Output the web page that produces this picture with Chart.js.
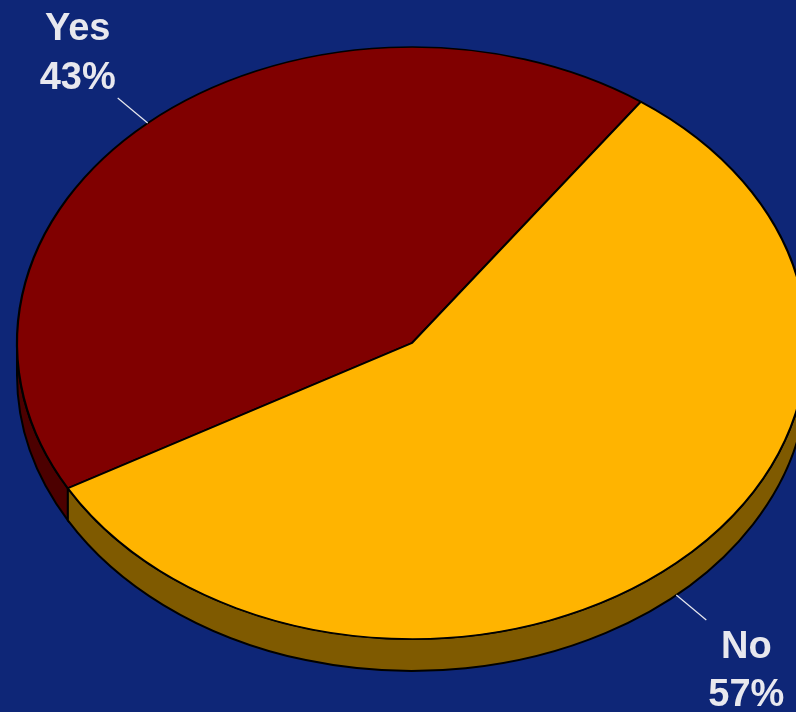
<!DOCTYPE html>
<html>
<head>
<meta charset="utf-8">
<script src="https://cdn.jsdelivr.net/npm/chart.js@4.4.0/dist/chart.umd.min.js"></script>
<style>
  html, body { margin: 0; padding: 0; background: #0e2677; overflow: hidden; }
  #wrap { position: relative; width: 796px; height: 712px; }
</style>
</head>
<body>
<div id="wrap"><canvas id="pie"></canvas></div>
<script>
const labels = ['Yes', 'No'];
const values = [43, 57];
const topColors = ['#800000', '#ffb400'];
const sideColors = ['#4c0000', '#7f5a00'];

// where the tilted pie lands on the page
const tilt = { cx: 412, cy: 343, rx: 395, ry: 296, depth: 32 };

const toPage = (ctx, arc) => {
  ctx.translate(tilt.cx, tilt.cy);
  ctx.scale(tilt.rx / arc.outerRadius, tilt.ry / arc.outerRadius);
  ctx.translate(-arc.x, -arc.y);
};

// pieces of an arc that face the viewer (lower half of the ellipse)
const frontParts = (start, end) => {
  const parts = [];
  for (let k = -2; k <= 2; k++) {
    const lo = Math.max(start, k * 2 * Math.PI);
    const hi = Math.min(end, k * 2 * Math.PI + Math.PI);
    if (hi > lo) parts.push([lo, hi]);
  }
  return parts;
};

const tiltPlugin = {
  id: 'tilt',
  beforeDatasetsDraw(chart) {
    const ctx = chart.ctx;
    const arcs = chart.getDatasetMeta(0).data;
    arcs.forEach((arc, i) => {
      frontParts(arc.startAngle, arc.endAngle).forEach(([a, b]) => {
        const dy = tilt.depth * arc.outerRadius / tilt.ry;
        ctx.save();
        toPage(ctx, arc);
        ctx.beginPath();
        ctx.arc(arc.x, arc.y, arc.outerRadius, a, b);
        ctx.arc(arc.x, arc.y + dy, arc.outerRadius, b, a, true);
        ctx.closePath();
        ctx.restore();
        ctx.fillStyle = sideColors[i];
        ctx.fill();
        ctx.lineWidth = 2;
        ctx.strokeStyle = '#000';
        ctx.stroke();
      });
    });
    ctx.save();
    toPage(ctx, arcs[0]);
  },
  afterDatasetsDraw(chart) {
    chart.ctx.restore();
  },
  afterDraw(chart) {
    const ctx = chart.ctx;
    const arcs = chart.getDatasetMeta(0).data;
    const total = values.reduce((s, v) => s + v, 0);
    arcs.forEach((arc, i) => {
      const mid = (arc.startAngle + arc.endAngle) / 2;
      const ex = tilt.rx * Math.cos(mid);
      const ey = tilt.ry * Math.sin(mid);
      const len = Math.hypot(ex, ey);
      const ux = ex / len, uy = ey / len;
      const x0 = tilt.cx + ex;
      const y0 = tilt.cy + ey + (ey > 0 ? tilt.depth : 0);
      const x1 = x0 + ux * 39, y1 = y0 + uy * 39;
      ctx.save();
      ctx.strokeStyle = '#e8e8ee';
      ctx.lineWidth = 1.2;
      ctx.beginPath();
      ctx.moveTo(x0, y0);
      ctx.lineTo(x1, y1);
      ctx.stroke();
      const tx = x1 + Math.sign(ux) * 40;
      const ty = y1 + Math.sign(uy) * 48;
      ctx.fillStyle = '#e8e8ee';
      ctx.font = 'bold 38px "Liberation Sans", Arial, sans-serif';
      ctx.textAlign = 'center';
      ctx.textBaseline = 'alphabetic';
      ctx.fillText(labels[i], tx, ty - 10);
      ctx.fillText(Math.round(values[i] / total * 100) + '%', tx, ty + 38.5);
      ctx.restore();
    });
  }
};

new Chart(document.getElementById('pie'), {
  type: 'pie',
  data: {
    labels,
    datasets: [{
      data: values,
      backgroundColor: topColors,
      borderColor: '#000',
      borderWidth: 2,
      clip: false
    }]
  },
  options: {
    responsive: true,
    maintainAspectRatio: false,
    animation: false,
    rotation: 240.6,
    events: [],
    plugins: {
      legend: { display: false },
      tooltip: { enabled: false }
    }
  },
  plugins: [tiltPlugin]
});
</script>
</body>
</html>
